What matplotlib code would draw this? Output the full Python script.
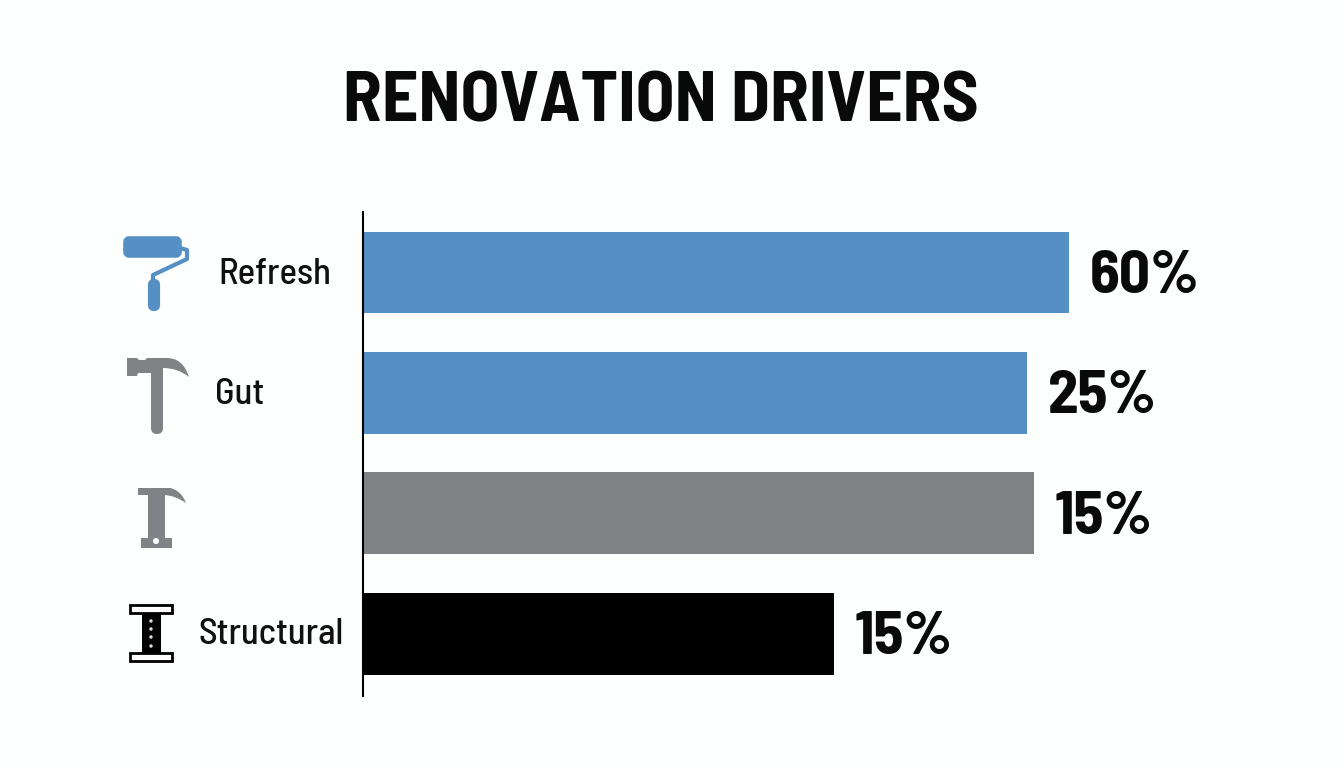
import matplotlib
matplotlib.use('Agg')
import matplotlib.pyplot as plt
from matplotlib.patches import Circle, FancyBboxPatch, PathPatch, Rectangle
from matplotlib.path import Path

# bar lengths as drawn (they do not follow the printed labels)
categories = ['Refresh', 'Gut', '', 'Structural']
bar_lengths = [60, 56.4, 57, 40]
value_labels = ['60%', '25%', '15%', '15%']
bar_colors = ['#5590c5', '#5590c5', '#7f8285', '#000000']

BLUE = '#5590c5'
GRAY = '#808285'
W, H = 1344, 768

plt.rcParams['font.family'] = ['Barlow Semi Condensed', 'Roboto', 'DejaVu Sans']
fig = plt.figure(figsize=(W / 100, H / 100), dpi=100, facecolor='#fdfefe')

# overlay in pixel coords for the icons and title
bg = fig.add_axes([0, 0, 1, 1], zorder=0)
bg.set_xlim(0, W)
bg.set_ylim(H, 0)
bg.axis('off')

# 1. the bars
left, right, top, bottom = 363, 1344, 212, 696
ax = fig.add_axes([left / W, 1 - bottom / H, (right - left) / W, (bottom - top) / H], zorder=1)
ax.patch.set_alpha(0)
ax.set_xlim(0, (right - left) * 60 / 706)
ax.set_ylim(3.515, -0.502)
ypos = list(range(len(categories)))
ax.barh(ypos, bar_lengths, height=0.68, color=bar_colors)
for i in ['top', 'bottom', 'right']:
    ax.spines[i].set_visible(False)
ax.spines['left'].set_linewidth(1.5)
ax.set_xticks([])
ax.set_yticks([])

for y, length, label in zip(ypos, bar_lengths, value_labels):
    ax.annotate(label, (length, y), xytext=(15, -3), textcoords='offset points',
                fontsize=44, fontweight='bold', va='center', ha='left', color='#0a0a0a')

label_x = [218, 215, 0, 198]
for y, x, name in zip(ypos, label_x, categories):
    if name:
        bg.text(x, 274 + y * 120.3, name, fontsize=26.5, fontweight='medium',
                va='center', ha='left', color='#111111')

bg.text(661, 104, 'RENOVATION DRIVERS', fontsize=51.5, fontweight='bold',
        ha='center', va='center', color='#0a0a0a')

# 2. icons
# paint roller
bg.add_patch(FancyBboxPatch((126, 239), 53, 16, boxstyle='round,pad=0,rounding_size=3',
                            mutation_scale=1, lw=4, ec=BLUE, fc=BLUE))
bg.plot([180, 187, 187, 153, 153], [248, 250, 259, 275, 282], color=BLUE, lw=3,
        solid_joinstyle='round')
bg.add_patch(FancyBboxPatch((150, 281), 8, 28, boxstyle='round,pad=0,rounding_size=4',
                            mutation_scale=1, lw=3, ec=BLUE, fc=BLUE))

# hammer
MO, LI, CU = Path.MOVETO, Path.LINETO, Path.CURVE3
hammer = [((127, 358), MO), ((137, 358), LI), ((139, 360), LI), ((145, 360), LI), ((147, 358), LI),
          ((167, 358), LI), ((183, 358), CU), ((189, 377), CU), ((178, 368), CU), ((163, 368), CU),
          ((163, 428), LI), ((163, 434), CU), ((157, 434), CU), ((151, 434), CU), ((151, 428), CU),
          ((151, 373), LI), ((138, 373), LI), ((137, 376), LI), ((127, 376), LI), ((127, 358), LI)]
bg.add_patch(PathPatch(Path([p[0] for p in hammer], [p[1] for p in hammer]), fc=GRAY, lw=0))

# short hammer, third row
hammer2 = [((138, 488), MO), ((170, 488), LI), ((181, 490), CU), ((186, 503), CU), ((176, 496), CU),
           ((165, 495), CU), ((165, 538), LI), ((172, 538), LI), ((172, 548), LI), ((141, 548), LI),
           ((141, 538), LI), ((148, 538), LI), ((148, 495), LI), ((138, 495), LI), ((138, 488), LI)]
bg.add_patch(PathPatch(Path([p[0] for p in hammer2], [p[1] for p in hammer2]), fc=GRAY, lw=0))
bg.add_patch(Circle((156, 541), 3, fc='white', lw=0))

# i-beam
bg.add_patch(Rectangle((142, 613), 19, 40, fc='black', lw=0))
for y0 in [605, 653]:
    bg.add_patch(Rectangle((130, y0), 42, 8, fc='white', ec='black', lw=2))
for y0 in [621, 629, 637, 646]:
    bg.add_patch(Circle((151, y0), 1.7, fc='#dddddd', lw=0))

fig.savefig('out.png', dpi=100, facecolor=fig.get_facecolor())
